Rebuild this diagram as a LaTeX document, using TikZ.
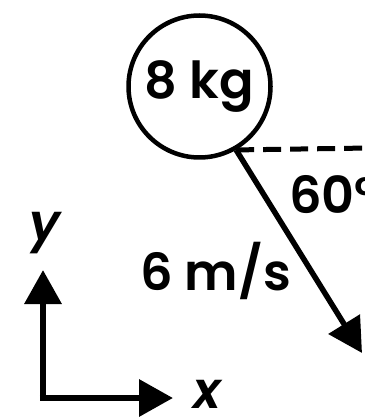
\documentclass[tikz,border=0pt]{standalone}
\usepackage{fontspec}
\setmainfont{Poppins SemiBold}[ItalicFont={Poppins SemiBold Italic}]
\usetikzlibrary{arrows.meta,positioning}

\begin{document}
\begin{tikzpicture}[x=1pt,y=-1pt,>={Triangle[length=34pt,width=36pt]},
	font=\fontsize{51}{60}\selectfont,
	mass/.style={draw,circle,line width=4.5pt,minimum size=142pt,inner sep=0pt},
	vec/.style={->,line width=5.5pt},
	axis/.style={->,line width=6.5pt},
	ref/.style={line width=5pt,dash pattern=on 18pt off 9pt},
	lbl/.style={anchor=base,inner sep=0pt,font=\fontsize{51}{60}\selectfont\itshape}]

\useasboundingbox (0,0) rectangle (364,419);
\clip (0,0) rectangle (364,419);

\node[mass]   (m)   at (199.5,86.5)   {8 kg};
\coordinate   (s)   at (m.-60);
\coordinate   (tip) at (362,353);
\coordinate   (h)   at (370,148);

\node[anchor=base]      (v)   at (215.5,290)  {6 m/s};
\node[anchor=base west,inner sep=0pt] (ang) at (289,213) {60°};

\coordinate   (o)   at (43,398);
\coordinate   (yt)  at (43,270);
\coordinate   (xt)  at (173,398);
\node[lbl]  (ly) at (45,240)  {y};
\node[lbl]  (lx) at (207,408) {x};

\draw[ref] (s) -- (h);
\draw[vec] (s) -- (tip);
\draw[axis] (o) -- (yt);
\draw[axis] (o) -- (xt);
\draw[line width=6.5pt] (o) ++(-3.25,0) -- (o);

\end{tikzpicture}
\end{document}
